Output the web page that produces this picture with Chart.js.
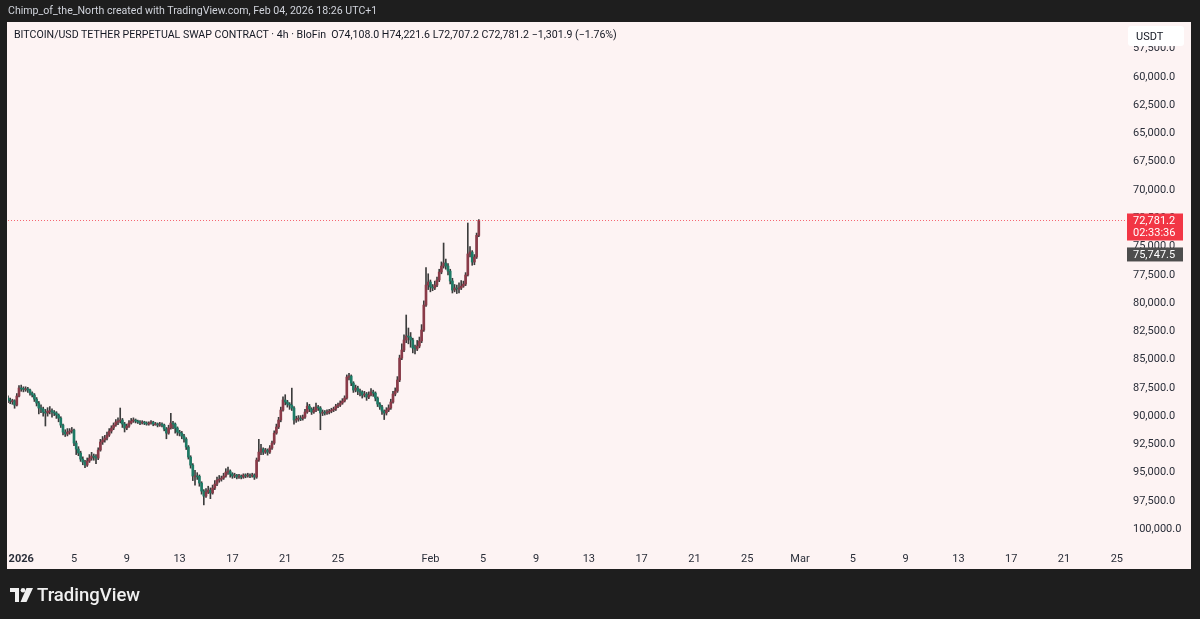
<!DOCTYPE html>
<html>
<head>
<meta charset="utf-8">
<script src="https://cdn.jsdelivr.net/npm/chart.js@4.4.1/dist/chart.umd.min.js"></script>
<style>
  html, body { margin: 0; padding: 0; background: #1e1e1e; width: 1200px; height: 619px; overflow: hidden; }
  body { font-family: Roboto, "Liberation Sans", sans-serif; }
  #wrap { position: relative; width: 1200px; height: 619px; }
  #chart { position: absolute; left: 0; top: 0; }
  .author { position: absolute; left: 8px; top: 4px; font-size: 10.6px; line-height: 14px; color: #d1d4dc; white-space: nowrap; }
  .legend { position: absolute; left: 14px; top: 28px; font-size: 10.6px; line-height: 14px; color: #131722; white-space: pre; }
  .logo { position: absolute; left: 10px; top: 588px; }
  .brand { position: absolute; left: 37px; top: 582px; font-size: 18.5px; line-height: 26px; font-weight: 500; color: #f0f0f0; }
</style>
</head>
<body>
<div id="wrap">
  <canvas id="chart" width="1200" height="619"></canvas>
  <div class="author">Chimp_of_the_North created with TradingView.com, Feb 04, 2026 18:26 UTC+1</div>
  <div class="legend">BITCOIN/USD TETHER PERPETUAL SWAP CONTRACT · 4h · BloFin  O74,108.0 H74,221.6 L72,707.2 C72,781.2 −1,301.9 (−1.76%)</div>
  <svg class="logo" width="24" height="14" viewBox="0 0 24 14">
    <rect x="0" y="0" width="9" height="4" fill="#f0f0f0"/>
    <rect x="5" y="0" width="4" height="14" fill="#f0f0f0"/>
    <circle cx="13" cy="2.3" r="2.3" fill="#f0f0f0"/>
    <polygon points="16.5,0 23,0 16.5,14 10.5,14" fill="#f0f0f0"/>
  </svg>
  <div class="brand">TradingView</div>
</div>
<script>
// 4h candles, first one = 31 Dec 2025 00:00 (day -1, days counted from 1 Jan 2026)
const startDay = -1;
const stepDay = 4 / 24;

const opens = [
  88500, 88670, 88760, 88730, 89120, 88320, 87610, 87640, 87700, 87680,
  87790, 88050, 88230, 88590, 88940, 89380, 89470, 89740, 89820, 89650,
  89620, 89740, 89820, 90000, 90270, 90890, 91510, 91680, 91510, 91420,
  91330, 92480, 93010, 93360, 93900, 94160, 94430, 94070, 93810, 93630,
  93720, 93810, 93100, 92390, 92210, 92040, 91770, 91420, 91150, 90890,
  90620, 90530, 90440, 90800, 91150, 90980, 90710, 90530, 90440, 90530,
  90620, 90710, 90620, 90710, 90800, 90710, 90620, 90800, 90780, 90890,
  90800, 90890, 91240, 91600, 91150, 90710, 90800, 91150, 91510, 91600,
  91860, 92130, 92830, 93720, 94430, 95400, 95380, 95420, 96020, 96730,
  97170, 96820, 96640, 96900, 96460, 96110, 95750, 95670, 95580, 95400,
  95050, 94960, 95220, 95400, 95310, 95490, 95400, 95490, 95310, 95400,
  95310, 95400, 95310, 95490, 93980, 93280, 93010, 93280, 93100, 93280,
  92920, 92480, 91600, 91060, 90440, 89560, 88670, 88850, 89030, 89120,
  89380, 90440, 90360, 90270, 90300, 90180, 89740, 89210, 89470, 89740,
  89560, 89290, 89380, 89820, 89740, 89820, 89740, 89650, 89560, 89470,
  89210, 89120, 88940, 88760, 88500, 86640, 86550, 87170, 87790, 87610,
  87880, 87970, 88230, 88140, 88410, 88230, 87970, 88060, 88500, 89030,
  89290, 89650, 89820, 89560, 89380, 88850, 88140, 87880, 86900, 84960,
  84250, 83360, 83010, 83100, 83360, 84070, 84160, 83900, 83450, 82480,
  80270, 78500, 78230, 78670, 78760, 78500, 78050, 77350, 76820, 76550,
  76820, 77260, 78140, 78940, 78760, 78850, 78760, 78590, 78410, 77610,
  75750, 75580, 76460, 76020, 74108.0
];

const highs = [
  88900, 89000, 89050, 89400, 89200, 88400, 87900, 87950, 87900, 88000,
  88250, 88400, 88800, 89200, 89900, 89800, 90100, 90970, 90100, 89900,
  90200, 90050, 90300, 90600, 91100, 91750, 91900, 91850, 91700, 91600,
  92700, 93500, 93600, 94100, 94400, 94650, 94550, 94200, 94000, 94000,
  94300, 93950, 93200, 92600, 92400, 92200, 91900, 91600, 91300, 91000,
  90850, 90700, 91100, 91500, 91300, 91100, 90800, 90650, 90700, 90750,
  90850, 90800, 90850, 90900, 90900, 90800, 90950, 90900, 91050, 91000,
  91050, 91400, 92100, 91700, 91250, 91200, 91600, 91800, 91850, 92100,
  92400, 93050, 93900, 94700, 95800, 96200, 95700, 96300, 97000, 97950,
  97300, 96950, 97400, 97000, 96600, 96250, 95950, 95850, 95700, 95500,
  95250, 95500, 95600, 95550, 95650, 95600, 95650, 95600, 95550, 95500,
  95550, 95500, 95700, 95600, 94100, 93500, 93500, 93400, 93550, 93400,
  93050, 92600, 91700, 91200, 90600, 89650, 89100, 89300, 89500, 89600,
  90800, 90650, 90550, 90500, 90450, 90300, 89850, 89700, 89950, 89850,
  89700, 89600, 91300, 90050, 90000, 89950, 89900, 89800, 89700, 89600,
  89350, 89250, 89050, 88850, 88600, 86900, 87400, 88000, 87950, 88200,
  88300, 88500, 88400, 88700, 88550, 88300, 88350, 88750, 89250, 89500,
  89950, 90400, 90000, 89700, 89500, 88950, 88300, 88000, 87050, 85100,
  84400, 83600, 83700, 84000, 84500, 84600, 84300, 84050, 83600, 82600,
  80400, 78900, 79100, 79000, 78900, 78650, 78200, 77500, 77000, 77100,
  77600, 78400, 79200, 79100, 79250, 79200, 78900, 78700, 78550, 77700,
  76000, 76750, 76700, 76150, 74221.6
];

const lows = [
  88300, 88500, 88600, 88650, 88100, 87400, 87350, 87500, 87500, 87550,
  87700, 87950, 88100, 88450, 88800, 89100, 89300, 89500, 89350, 89250,
  89450, 89600, 89700, 89900, 90150, 90800, 91300, 91200, 91200, 91100,
  91250, 92300, 92800, 93200, 93700, 94000, 93800, 93500, 93300, 93450,
  93500, 92900, 92150, 91900, 91800, 91500, 91200, 90950, 90700, 90400,
  90250, 89380, 90300, 90650, 90800, 90500, 90300, 90250, 90350, 90450,
  90500, 90500, 90550, 90600, 90600, 90500, 90550, 90650, 90700, 90650,
  90700, 90800, 91100, 90900, 89850, 90550, 90700, 91050, 91350, 91450,
  91700, 92000, 92700, 93600, 94300, 94900, 95100, 95300, 95900, 96600,
  96500, 96300, 96450, 96200, 95800, 95500, 95350, 95400, 95150, 94750,
  94600, 94850, 95100, 95150, 95250, 95250, 95300, 95200, 95200, 95150,
  95200, 95150, 95200, 93800, 92150, 92600, 92900, 92950, 93000, 92700,
  92300, 91400, 90800, 90200, 89300, 88400, 88200, 88700, 88900, 87620,
  89250, 90100, 90050, 90050, 90000, 89500, 88900, 89050, 89350, 89300,
  88950, 89150, 89250, 89550, 89600, 89550, 89500, 89400, 89300, 89050,
  88950, 88750, 88550, 88300, 86450, 86300, 86450, 87050, 87350, 87450,
  87700, 87850, 87900, 88000, 87950, 87650, 87800, 87950, 88400, 88900,
  89150, 89550, 89350, 89100, 88600, 87900, 87600, 86600, 84700, 83700,
  82900, 81150, 82300, 82700, 83200, 83800, 83400, 83100, 82000, 79900,
  76950, 77500, 78050, 78450, 78150, 77800, 77100, 76450, 74780, 76200,
  76600, 77100, 77900, 78450, 78500, 78300, 78100, 78150, 77400, 73010,
  75100, 75450, 75800, 73900, 72707.2
];

const closes = [
  88670, 88760, 88730, 89120, 88320, 87610, 87640, 87700, 87680, 87790,
  88050, 88230, 88590, 88940, 89380, 89470, 89740, 89820, 89650, 89620,
  89740, 89820, 90000, 90270, 90890, 91510, 91680, 91510, 91420, 91330,
  92480, 93010, 93360, 93900, 94160, 94430, 94070, 93810, 93630, 93720,
  93810, 93100, 92390, 92210, 92040, 91770, 91420, 91150, 90890, 90620,
  90530, 90440, 90800, 91150, 90980, 90710, 90530, 90440, 90530, 90620,
  90710, 90620, 90710, 90800, 90710, 90620, 90800, 90780, 90890, 90800,
  90890, 91240, 91600, 91150, 90710, 90800, 91150, 91510, 91600, 91860,
  92130, 92830, 93720, 94430, 95400, 95380, 95420, 96020, 96730, 97170,
  96820, 96640, 96900, 96460, 96110, 95750, 95670, 95580, 95400, 95050,
  94960, 95220, 95400, 95310, 95490, 95400, 95490, 95310, 95400, 95310,
  95400, 95310, 95490, 93980, 93280, 93010, 93280, 93100, 93280, 92920,
  92480, 91600, 91060, 90440, 89560, 88670, 88850, 89030, 89120, 89380,
  90440, 90360, 90270, 90300, 90180, 89740, 89210, 89470, 89740, 89560,
  89290, 89380, 89820, 89740, 89820, 89740, 89650, 89560, 89470, 89210,
  89120, 88940, 88760, 88500, 86640, 86550, 87170, 87790, 87610, 87880,
  87970, 88230, 88140, 88410, 88230, 87970, 88060, 88500, 89030, 89290,
  89650, 89820, 89560, 89380, 88850, 88140, 87880, 86900, 84960, 84250,
  83360, 83010, 83100, 83360, 84070, 84160, 83900, 83450, 82480, 80270,
  78500, 78230, 78670, 78760, 78500, 78050, 77350, 76820, 76550, 76820,
  77260, 78140, 78940, 78760, 78850, 78760, 78590, 78410, 77610, 75750,
  75580, 76460, 76020, 74108, 72781.2
];

// axis ticks
const priceTicks = [57500, 60000, 62500, 65000, 67500, 70000, 72500, 75000, 77500, 80000,
  82500, 85000, 87500, 90000, 92500, 95000, 97500, 100000];
const dayTicks = [0, 4, 8, 12, 16, 20, 24, 31, 35, 39, 43, 47, 51, 55, 59, 63, 67, 71, 75, 79, 83];
const dayLabels = ['2026', '5', '9', '13', '17', '21', '25', 'Feb', '5', '9', '13', '17', '21', '25',
  'Mar', '5', '9', '13', '17', '21', '25'];

const lastPrice = closes[closes.length - 1];
const refPrice = 75747.5;
const countdown = '02:33:36';

const upColor = '#1d7a65';
const downColor = '#8a3a48';
const wickColor = '#3c3c3c';
const fontFamily = 'Roboto, "Liberation Sans", sans-serif';

const xs = closes.map((c, i) => startDay + i * stepDay);
const bodies = closes.map((c, i) => ({ x: xs[i], y: [opens[i], c] }));
const wicks = closes.map((c, i) => ({ x: xs[i], y: [lows[i], highs[i]] }));
const bodyColors = closes.map((c, i) => c < opens[i] ? downColor : upColor);

function fmt(v) {
  return v.toLocaleString('en-US', { minimumFractionDigits: 1, maximumFractionDigits: 1 });
}

// panel background + price tags
const decor = {
  id: 'decor',
  beforeDraw(chart) {
    const ctx = chart.ctx;
    ctx.save();
    ctx.fillStyle = '#fdf3f3';
    ctx.fillRect(7, 22, 1184, 547);
    ctx.restore();
  },
  afterDraw(chart) {
    const ctx = chart.ctx;
    const area = chart.chartArea;
    const y = chart.scales.y;
    ctx.save();

    // last price dotted line
    const yl = Math.round(y.getPixelForValue(lastPrice)) + 0.5;
    ctx.strokeStyle = 'rgba(242,54,69,0.75)';
    ctx.lineWidth = 1;
    ctx.setLineDash([1, 2]);
    ctx.beginPath();
    ctx.moveTo(area.left, yl);
    ctx.lineTo(area.right, yl);
    ctx.stroke();
    ctx.setLineDash([]);

    ctx.font = '11px ' + fontFamily;
    ctx.textBaseline = 'middle';
    ctx.textAlign = 'left';

    // reference price tag
    const yr = y.getPixelForValue(refPrice);
    ctx.fillStyle = '#4d4d4d';
    ctx.fillRect(1127, yr - 6.5, 56, 14);
    ctx.fillStyle = '#ffffff';
    ctx.fillText(fmt(refPrice), 1133, yr + 1);

    // last price tag with countdown
    ctx.fillStyle = '#f23645';
    ctx.fillRect(1127, yl - 7, 56, 27);
    ctx.fillStyle = '#ffffff';
    ctx.fillText(fmt(lastPrice), 1133, yl + 1);
    ctx.fillText(countdown, 1133, yl + 13);

    // currency box
    ctx.fillStyle = '#ffffff';
    ctx.beginPath();
    ctx.roundRect(1128, 26, 56, 20, 3);
    ctx.fill();
    ctx.fillStyle = '#131722';
    ctx.fillText('USDT', 1136, 37);

    ctx.restore();
  }
};

new Chart(document.getElementById('chart'), {
  type: 'bar',
  data: {
    datasets: [
      {
        label: 'wicks',
        data: wicks,
        backgroundColor: wickColor,
        barThickness: 1,
        grouped: false,
        order: 2
      },
      {
        label: 'bodies',
        data: bodies,
        backgroundColor: bodyColors,
        barThickness: 2,
        minBarLength: 1,
        grouped: false,
        order: 1
      }
    ]
  },
  options: {
    responsive: false,
    devicePixelRatio: 1,
    animation: false,
    layout: { padding: { left: 8, top: 24, right: 9, bottom: 50 } },
    plugins: { legend: { display: false }, tooltip: { enabled: false } },
    scales: {
      x: {
        type: 'linear',
        position: 'bottom',
        offset: false,
        min: -1,
        max: 83.62,
        grid: { display: false, drawTicks: false },
        border: { display: false },
        afterFit: s => { s.height = 24; },
        afterBuildTicks: s => { s.ticks = dayTicks.map(v => ({ value: v })); },
        ticks: {
          autoSkip: false,
          maxRotation: 0,
          padding: 8,
          color: '#2a2e39',
          font: ctx => ({ family: fontFamily, size: 11, weight: ctx.index === 0 ? 'bold' : 'normal' }),
          callback: (v, i) => dayLabels[i]
        }
      },
      y: {
        type: 'linear',
        position: 'right',
        reverse: true,
        min: 55400,
        max: 101500,
        grid: { display: false, drawTicks: false },
        border: { display: false },
        afterFit: s => { s.width = 66; },
        afterBuildTicks: s => { s.ticks = priceTicks.map(v => ({ value: v })); },
        ticks: {
          padding: 8,
          labelOffset: 1,
          color: '#2a2e39',
          font: { family: fontFamily, size: 11 },
          callback: v => fmt(v)
        }
      }
    }
  },
  plugins: [decor]
});
</script>
</body>
</html>
